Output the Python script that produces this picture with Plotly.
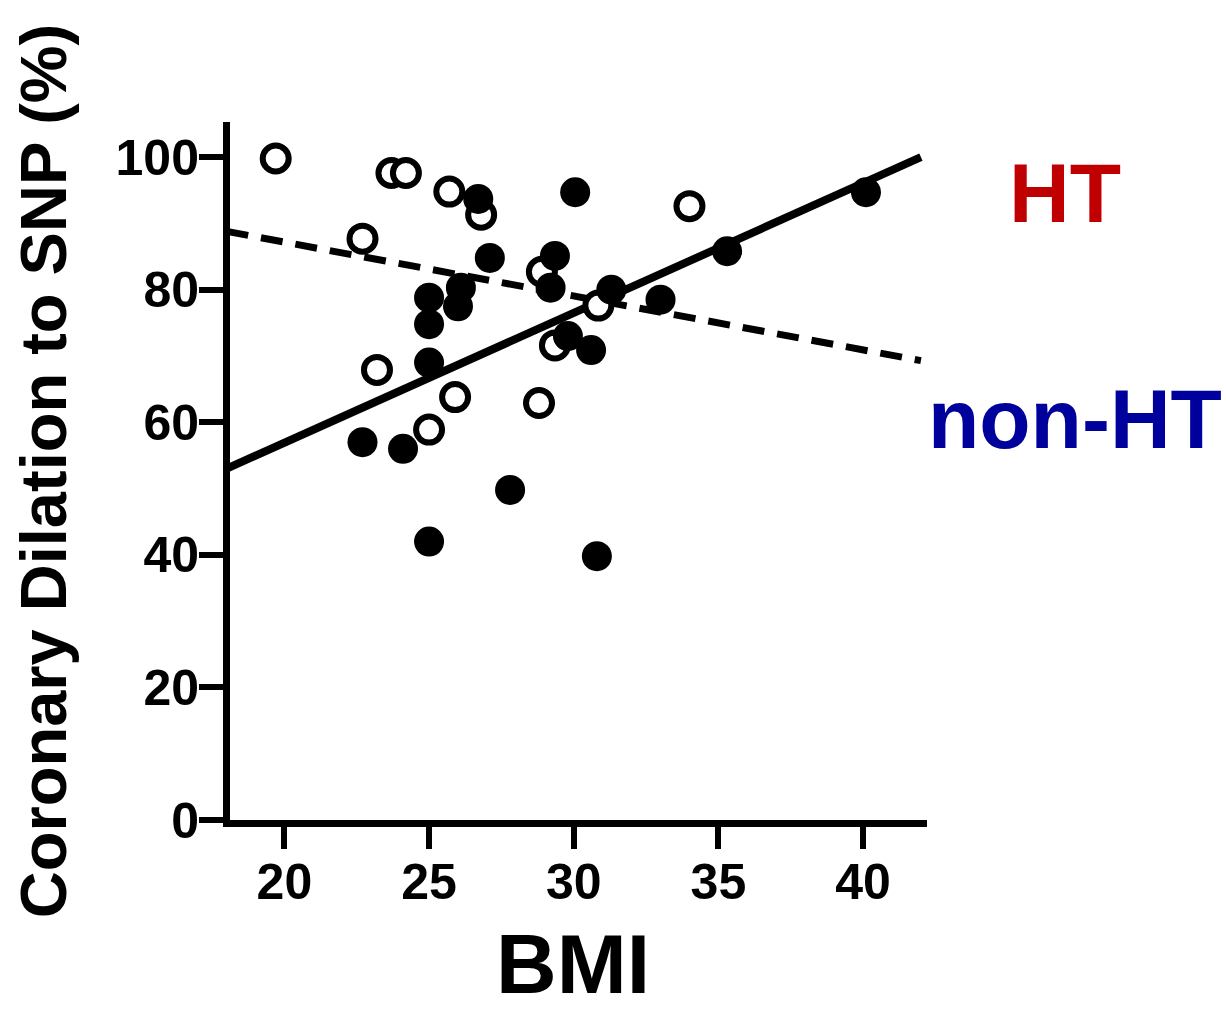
import plotly.graph_objects as go

# ---- data ----
ht_bmi = [22.7, 24.1, 25.0, 25.0, 25.0, 25.0, 26.0, 26.1, 26.7, 27.1, 27.8,
          29.35, 29.2, 29.8, 30.05, 30.6, 30.8, 31.3, 33.0, 35.3, 40.1]
ht_dil = [57.0, 56.0, 42.0, 69.0, 74.8, 78.8, 77.5, 80.3, 93.7, 84.8, 49.8,
          85.1, 80.3, 73.0, 94.7, 70.9, 39.8, 80.0, 78.5, 85.8, 94.7]

nonht_bmi = [19.7, 23.7, 24.2, 25.7, 26.8, 22.7, 34.0, 23.2, 25.9, 25.0,
             28.8, 29.35, 28.9, 30.85]
nonht_dil = [99.8, 97.6, 97.6, 94.8, 91.3, 87.7, 92.6, 67.9, 63.8, 58.9,
             62.9, 71.6, 82.7, 77.6]

fit_x = [18.0, 42.0]
ht_fit_y = [53.0, 100.0]
nonht_fit_y = [88.8, 69.3]

x_ticks = [20, 25, 30, 35, 40]
y_ticks = [0, 20, 40, 60, 80, 100]

FONT = "Liberation Sans, Arial, sans-serif"

fig = go.Figure()

fig.add_trace(go.Scatter(x=fit_x, y=nonht_fit_y, mode="lines",
                         line=dict(color="black", width=7, dash="22px,13px"),
                         hoverinfo="skip", showlegend=False))
fig.add_trace(go.Scatter(x=fit_x, y=ht_fit_y, mode="lines",
                         line=dict(color="black", width=8),
                         hoverinfo="skip", showlegend=False))
fig.add_trace(go.Scatter(x=nonht_bmi, y=nonht_dil, mode="markers",
                         marker=dict(symbol="circle", size=26, color="white",
                                     line=dict(color="black", width=6)),
                         name="non-HT", showlegend=False))
fig.add_trace(go.Scatter(x=ht_bmi, y=ht_dil, mode="markers",
                         marker=dict(symbol="circle", size=30, color="black",
                                     line=dict(width=0)),
                         name="HT", showlegend=False))

fig.update_layout(
    width=1226, height=1010,
    margin=dict(l=229.5, r=299, t=122, b=190),
    paper_bgcolor="white", plot_bgcolor="white",
    font=dict(family=FONT, color="black"),
    xaxis=dict(range=[18.12, 42.21], tickvals=x_ticks, showgrid=False, zeroline=False,
               showline=True, linecolor="black", linewidth=7,
               ticks="outside", ticklen=22, tickwidth=6, tickcolor="black",
               tickfont=dict(size=50, weight="bold", family=FONT),
               ticklabelstandoff=-10,
               automargin=False),
    yaxis=dict(range=[0, 105.3], tickvals=y_ticks, showgrid=False, zeroline=False,
               showline=True, linecolor="black", linewidth=7,
               ticks="outside", ticklen=24, tickwidth=6, tickcolor="black",
               tickfont=dict(size=50, weight="bold", family=FONT),
               ticklabelstandoff=-10,
               title=dict(text="Coronary Dilation to SNP (%)",
                          font=dict(size=65, weight="bold", family=FONT),
                          standoff=30),
               automargin=False),
    annotations=[
        dict(text="BMI", x=0.4925, y=-0.2063, xref="paper", yref="paper",
             xanchor="center", yanchor="middle",
             showarrow=False, font=dict(size=84, weight="bold", color="black", family=FONT)),
        dict(text="HT", x=1.198, y=0.898, xref="paper", yref="paper",
             xanchor="center", yanchor="middle",
             showarrow=False, font=dict(size=84, weight="bold", color="#C00000", family=FONT)),
        dict(text="non-HT", x=1.212, y=0.575, xref="paper", yref="paper",
             xanchor="center", yanchor="middle",
             showarrow=False, font=dict(size=84, weight="bold", color="#00009C", family=FONT)),
    ],
)

fig.write_html("out.html")
